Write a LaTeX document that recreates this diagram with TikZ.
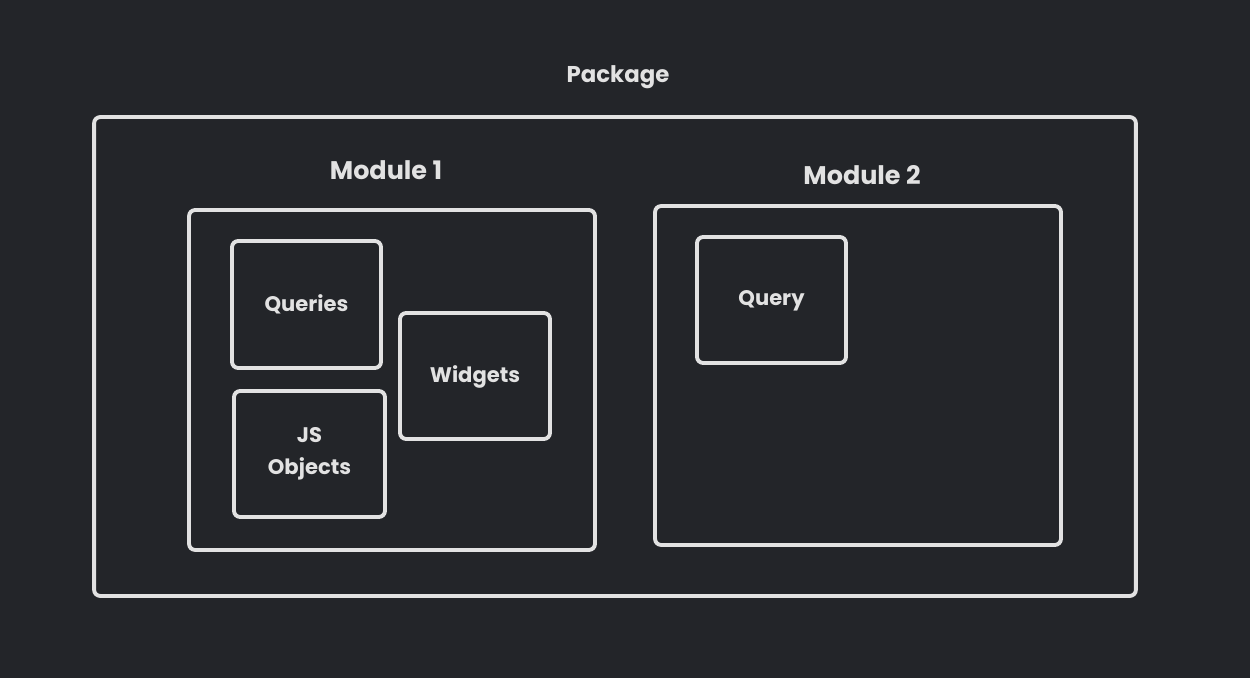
\documentclass[tikz,border=0pt]{standalone}
\usepackage{fontspec}
\setmainfont{Poppins}
\definecolor{bgdark}{HTML}{232529}
\definecolor{inkwhite}{HTML}{E2E2E2}
\tikzset{
  box/.style={draw=inkwhite, line width=2.2pt, rounded corners=3.5pt, inner sep=0pt, align=center, text=inkwhite, font=\fontsize{12}{18}\selectfont\bfseries},
  boxlabel/.style={text=inkwhite, font=\fontsize{14.5}{16}\selectfont\bfseries}
}
\begin{document}
\begin{tikzpicture}[x=0.02cm, y=-0.02cm]
			\fill[bgdark] (0,0) rectangle (1250,678);
			\useasboundingbox (0,0) rectangle (1250,678);
			% package and its modules
			\node[box, minimum width=20.84cm, minimum height=9.58cm] (package) at (615,356.5) {};
			\node[boxlabel, font=\fontsize{13}{16}\selectfont\bfseries] (packagelabel) at (618,77) {Package};
			\node[box, minimum width=8.12cm, minimum height=6.8cm] (module1) at (392,380) {};
			\node[boxlabel] (module1label) at (386,170) {Module 1};
			\node[box, minimum width=8.12cm, minimum height=6.78cm] (module2) at (858,375.5) {};
			\node[boxlabel] (module2label) at (862,175) {Module 2};
			% contents of module 1
			\node[box, minimum width=2.98cm, minimum height=2.54cm, text depth=2pt] (queries) at (306.5,304.5) {Queries};
			\node[box, minimum width=3.0cm, minimum height=2.52cm, text depth=2pt] (widgets) at (475,376) {Widgets};
			\node[box, minimum width=3.02cm, minimum height=2.52cm] (jsobjects) at (309.5,454) {JS\\Objects};
			% contents of module 2
			\node[box, minimum width=2.98cm, minimum height=2.52cm, text depth=2pt] (query) at (771.5,300) {Query};
		\end{tikzpicture}
\end{document}
